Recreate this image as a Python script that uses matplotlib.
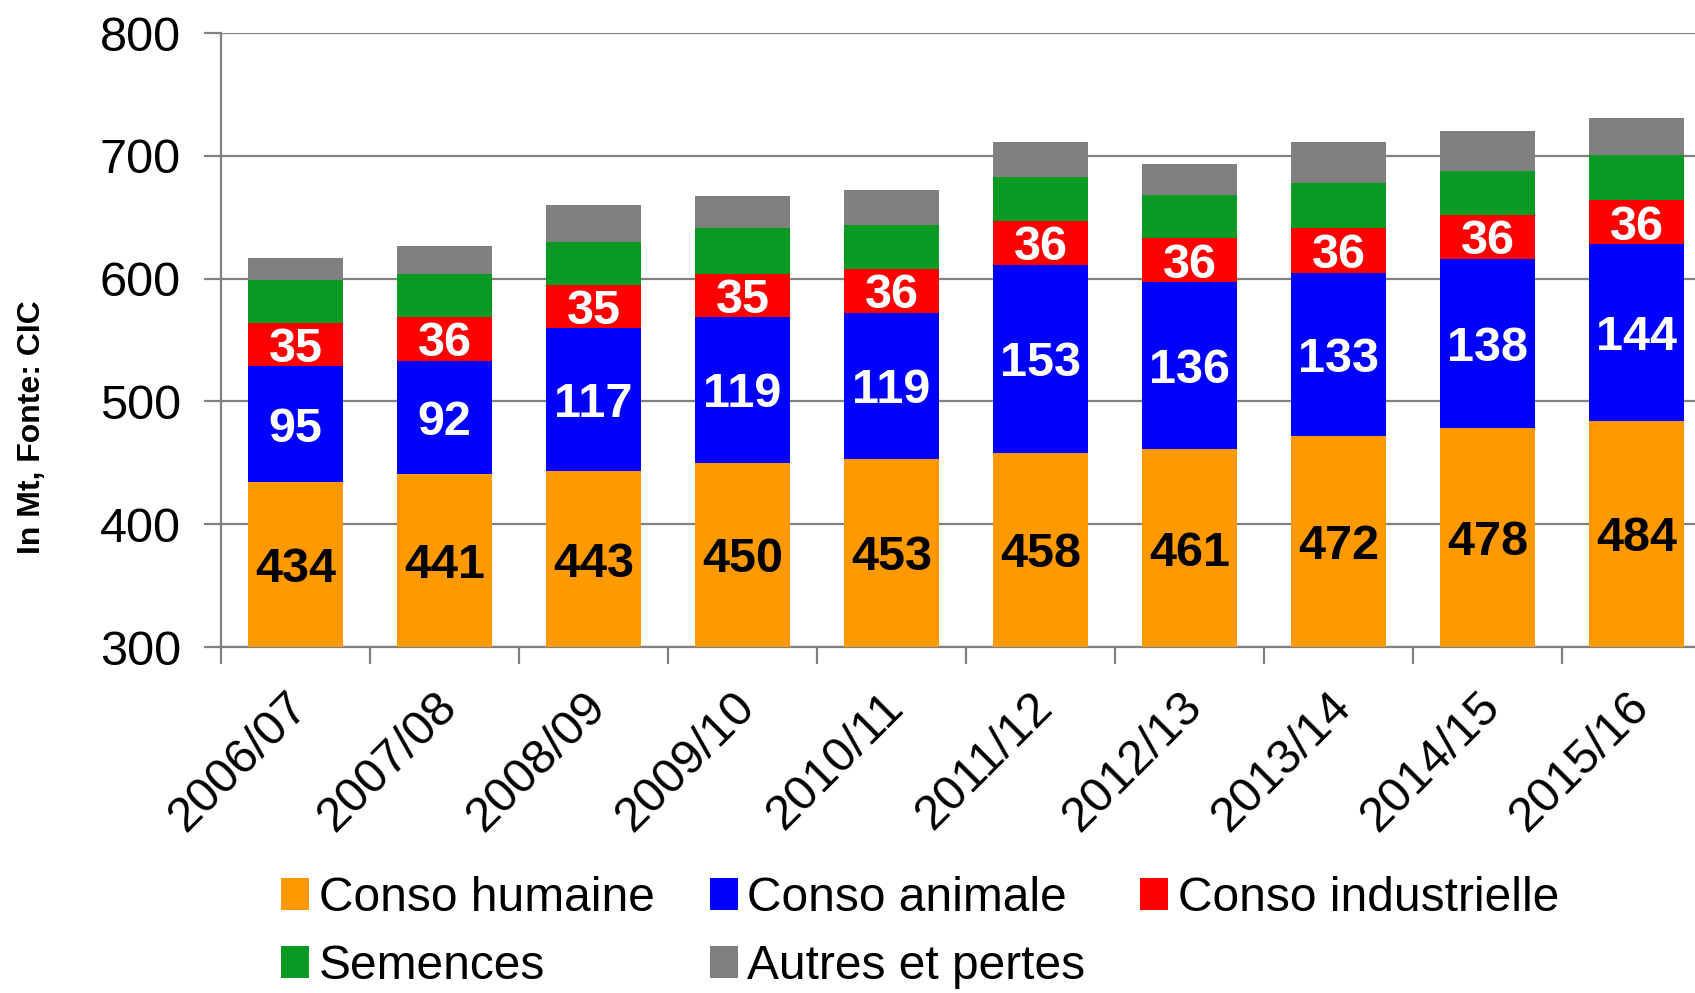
import matplotlib
matplotlib.use("Agg")
import matplotlib.pyplot as plt
import matplotlib.transforms as mtransforms
import numpy as np

plt.rcParams["font.family"] = ["Liberation Sans", "DejaVu Sans"]

seasons = ["2006/07", "2007/08", "2008/09", "2009/10", "2010/11",
           "2011/12", "2012/13", "2013/14", "2014/15", "2015/16"]
humaine = [434, 441, 443, 450, 453, 458, 461, 472, 478, 484]
animale = [95, 92, 117, 119, 119, 153, 136, 133, 138, 144]
industrielle = [35, 36, 35, 35, 36, 36, 36, 36, 36, 36]
semences = [35, 35, 35, 37, 36, 36, 35, 37, 36, 37]
autres = [18, 23, 30, 26, 28, 28, 25, 33, 32, 30]

series = [
    ("Conso humaine", humaine, "#FF9900", "black"),
    ("Conso animale", animale, "#0000FF", "white"),
    ("Conso industrielle", industrielle, "#FF0000", "white"),
    ("Semences", semences, "#0A9A24", None),
    ("Autres et pertes", autres, "#808080", None),
]

fig = plt.figure(figsize=(16.95, 9.93), dpi=100)
ax = fig.add_axes([0.1304, 0.3484, 0.879, 0.6183])

x = np.arange(len(seasons))
ymin, ymax = 300, 800
bottom = np.zeros(len(seasons))
handles = {}
for name, vals, color, lab_color in series:
    vals = np.array(vals, dtype=float)
    bars = ax.bar(x, vals, 0.636, bottom=bottom, color=color, zorder=3, label=name)
    handles[name] = bars
    if lab_color is not None:
        for xi, b, v in zip(x, bottom, vals):
            yc = (max(b, ymin) + b + v) / 2
            ax.annotate(f"{int(v)}", (xi, yc), xytext=(0, -3.5),
                        textcoords="offset points", ha="center", va="center",
                        fontsize=35, fontweight="bold", color=lab_color, zorder=4)
    bottom = bottom + vals

ax.set_xlim(-0.5, len(seasons) - 0.5)
ax.set_ylim(ymin, ymax)
ax.set_yticks(np.arange(300, 801, 100))
ax.yaxis.grid(True, color="#808080", linewidth=1.6, zorder=0)
ax.set_axisbelow(True)

for side in ["top", "right"]:
    ax.spines[side].set_visible(False)
for side in ["left", "bottom"]:
    ax.spines[side].set_color("#808080")
    ax.spines[side].set_linewidth(1.6)

ax.tick_params(axis="y", direction="out", length=12, width=1.6, color="#808080",
               labelsize=35, pad=17)
ax.set_xticks(x)
ax.set_xticks(np.arange(-0.5, len(seasons)), minor=True)
ax.tick_params(axis="x", which="major", length=0, pad=38)
ax.tick_params(axis="x", which="minor", direction="out", length=12, width=1.6,
               color="#808080")
ax.set_xticklabels(seasons, rotation=45, ha="right", va="center",
                   rotation_mode="anchor", fontsize=35)
offset = mtransforms.ScaledTranslation(4 / 72, 0, fig.dpi_scale_trans)
for lbl in ax.get_xticklabels():
    lbl.set_transform(lbl.get_transform() + offset)

fig.text(0.019, 0.57, "In Mt, Fonte: CIC", rotation=90, ha="center", va="center",
         fontsize=23, fontweight="bold")

order = ["Conso humaine", "Semences", "Conso animale", "Autres et pertes",
         "Conso industrielle"]
fig.legend([handles[n] for n in order], order, ncol=3, loc="upper left",
           bbox_to_anchor=(0.166, 0.118), frameon=False, fontsize=34.5,
           handlelength=0.58, handleheight=0.65, handletextpad=0.2,
           columnspacing=1.15, labelspacing=0.48, borderpad=0, borderaxespad=0)

fig.savefig("out.png", dpi=100)
